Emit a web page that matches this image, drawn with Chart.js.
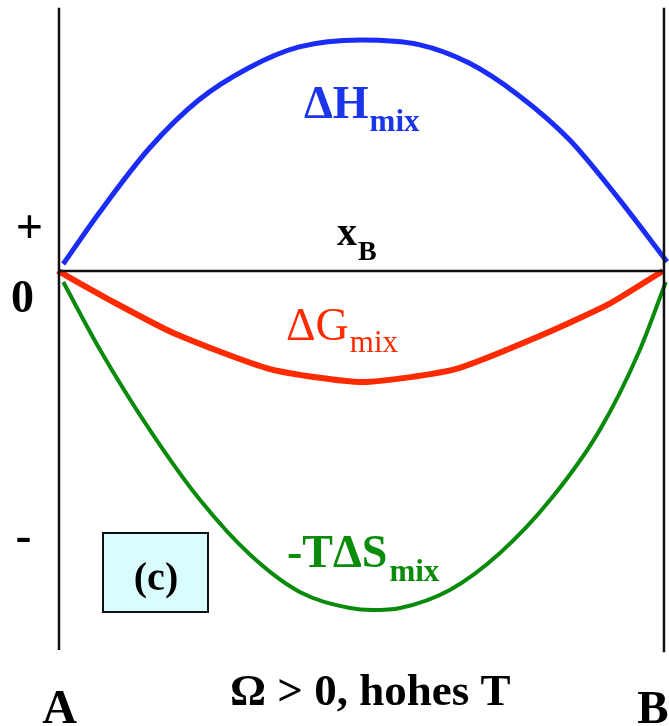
<!DOCTYPE html>
<html>
<head>
<meta charset="utf-8">
<script src="https://cdn.jsdelivr.net/npm/chart.js@4.4.0/dist/chart.umd.min.js"></script>
<style>
  html, body { margin: 0; padding: 0; background: #fff; }
  #wrap { width: 669px; height: 726px; }
</style>
</head>
<body>
<div id="wrap"><canvas id="mixChart" width="669" height="726"></canvas></div>
<script>
// x_B from A (0) to B (1); energies relative to the ΔH_mix maximum
const hX = [0.007, 0.066, 0.149, 0.231, 0.314, 0.397, 0.499, 0.595, 0.678, 0.760, 0.843, 0.926, 1.005];
const hY = [0.03, 0.25, 0.53, 0.74, 0.88, 0.97, 1.0, 0.98, 0.90, 0.76, 0.57, 0.31, 0.04];

const gX = [-0.002, 0.084, 0.192, 0.349, 0.501, 0.655, 0.803, 0.911, 0.998];
const gY = [0, -0.126, -0.272, -0.425, -0.481, -0.425, -0.272, -0.140, 0];

const sX = [0.007, 0.068, 0.150, 0.233, 0.316, 0.398, 0.481, 0.517, 0.564, 0.646, 0.729, 0.812, 0.894, 0.960, 1.003];
const sY = [-0.048, -0.342, -0.688, -0.991, -1.229, -1.390, -1.459, -1.468, -1.459, -1.381, -1.221, -0.991, -0.688, -0.342, -0.048];

const axisTop = 1.139;
const axisBottom = -1.641;

const pts = (xs, ys) => xs.map((x, i) => ({ x, y: ys[i] }));

// labels, box and subscripts drawn on top
const textPlugin = {
  id: "texts",
  afterDraw(chart) {
    const ctx = chart.ctx;
    const serif = '"Liberation Serif", "Times New Roman", serif';
    const put = (txt, x, y, size, color, weight = "bold", align = "left") => {
      ctx.font = `${weight} ${size}px ${serif}`;
      ctx.fillStyle = color;
      ctx.textAlign = align;
      ctx.textBaseline = "alphabetic";
      ctx.fillText(txt, x, y);
      return ctx.measureText(txt).width;
    };
    ctx.save();
    put("+", 29.5, 243, 48, "#000", "bold", "center");
    put("0", 22.5, 312, 46, "#000", "bold", "center");
    put("-", 23.5, 551, 48, "#000", "bold", "center");
    put("A", 59.5, 723, 48, "#000", "bold", "center");
    put("B", 653, 723, 47, "#000", "bold", "center");
    put("Ω > 0, hohes T", 230, 705, 45, "#000", "bold");

    let w = put("x", 337, 245, 40, "#000", "bold");
    put("B", 337 + w + 1, 260, 28, "#000", "bold");

    w = put("ΔH", 304, 118, 46, "#1a36e8", "bold");
    put("mix", 304 + w + 1, 131, 31, "#1a36e8", "bold");

    w = put("ΔG", 286, 340, 46, "#ff2a00", "normal");
    put("mix", 286 + w + 1, 352, 31, "#ff2a00", "normal");

    w = put("-TΔS", 287, 567, 46, "#0a8c0a", "bold");
    put("mix", 287 + w + 2, 581, 31, "#0a8c0a", "bold");

    ctx.fillStyle = "#d9fcfc";
    ctx.fillRect(103, 533, 105, 79);
    ctx.strokeStyle = "#111";
    ctx.lineWidth = 2;
    ctx.strokeRect(103, 533, 105, 79);
    put("(c)", 156, 590, 40, "#000", "bold", "center");
    ctx.restore();
  },
};

new Chart(document.getElementById("mixChart"), {
  type: "line",
  data: {
    datasets: [
      {
        label: "A",
        data: [{ x: 0, y: axisTop }, { x: 0, y: axisBottom }],
        borderColor: "#111",
        borderWidth: 2.5,
      },
      {
        label: "B",
        data: [{ x: 1, y: axisTop }, { x: 1, y: axisBottom - 0.01 }],
        borderColor: "#111",
        borderWidth: 2.5,
      },
      {
        label: "x_B",
        data: [{ x: 0, y: 0 }, { x: 1, y: 0 }],
        borderColor: "#111",
        borderWidth: 2.5,
      },
      {
        label: "ΔH_mix",
        data: pts(hX, hY),
        borderColor: "#1a2cf5",
        borderWidth: 5,
        cubicInterpolationMode: "monotone",
      },
      {
        label: "-TΔS_mix",
        data: pts(sX, sY),
        borderColor: "#0a8a0a",
        borderWidth: 4,
        cubicInterpolationMode: "monotone",
      },
      {
        label: "ΔG_mix",
        data: pts(gX, gY),
        borderColor: "#ff2a00",
        borderWidth: 6,
        tension: 0.2,
      },
    ],
  },
  options: {
    responsive: false,
    animation: false,
    layout: { padding: 0 },
    elements: { point: { radius: 0 }, line: { borderCapStyle: "butt" } },
    scales: {
      x: { type: "linear", min: -0.0975, max: 1.0083, display: false },
      y: { type: "linear", min: -1.970, max: 1.173, display: false },
    },
    plugins: {
      legend: { display: false },
      tooltip: { enabled: false },
    },
  },
  plugins: [textPlugin],
});
</script>
</body>
</html>
